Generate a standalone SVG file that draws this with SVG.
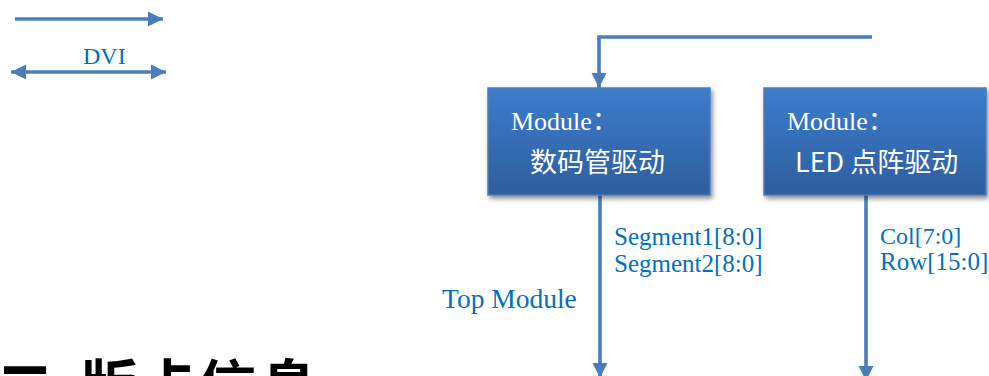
<svg xmlns="http://www.w3.org/2000/svg" width="989" height="376" viewBox="0 0 989 376">
  <defs>
    <linearGradient id="boxGrad" x1="0" y1="0" x2="0" y2="1">
      <stop offset="0" stop-color="#3B7DCC"/>
      <stop offset="1" stop-color="#2E5D9D"/>
    </linearGradient>
    <filter id="shadow" x="-10%" y="-10%" width="125%" height="130%">
      <feGaussianBlur in="SourceAlpha" stdDeviation="2.5"/>
      <feOffset dx="2" dy="3" result="b"/>
      <feComponentTransfer><feFuncA type="linear" slope="0.45"/></feComponentTransfer>
      <feMerge><feMergeNode/><feMergeNode in="SourceGraphic"/></feMerge>
    </filter>
    <marker id="arrow" viewBox="0 0 10 10" refX="10" refY="5" markerWidth="4.2" markerHeight="4.2" orient="auto" markerUnits="strokeWidth">
      <path d="M0,0 L10,5 L0,10 z" fill="#4A7EBB"/>
    </marker>
    <marker id="arrowStart" viewBox="0 0 10 10" refX="0" refY="5" markerWidth="4.2" markerHeight="4.2" orient="auto" markerUnits="strokeWidth">
      <path d="M10,0 L0,5 L10,10 z" fill="#4A7EBB"/>
    </marker>
  </defs>
  <style>
    .conn { fill: none; stroke: #4A7EBB; stroke-width: 3.6; }
    .box { fill: url(#boxGrad); stroke: #4A7EBB; stroke-width: 1.5; filter: url(#shadow); }
    .lbl { font-family: "Liberation Serif", "Noto Sans CJK SC", serif; font-size: 25px; fill: #0070C0; }
    .mod { font-family: "Liberation Serif", "Noto Sans CJK SC", serif; font-size: 26px; fill: #FFFFFF; }
    .cn { font-family: "Noto Sans CJK SC", sans-serif; font-size: 27px; fill: #FFFFFF; }
    .head { font-family: "Noto Sans CJK SC", sans-serif; font-size: 58px; font-weight: 700; fill: #000000; }
  </style>

  <g id="connectors">
    <line class="conn" x1="15" y1="19" x2="163" y2="19" marker-end="url(#arrow)"/>
    <line class="conn" x1="11" y1="72" x2="166" y2="72" marker-start="url(#arrowStart)" marker-end="url(#arrow)"/>
    <polyline class="conn" points="872,37 599,37 599,88" marker-end="url(#arrow)"/>
    <line class="conn" x1="600" y1="195" x2="600" y2="378" marker-end="url(#arrow)"/>
    <line class="conn" x1="866" y1="195" x2="866" y2="381" marker-end="url(#arrow)"/>
  </g>

  <g id="legend-dvi">
    <text class="lbl" x="83" y="64" style="font-size:24px">DVI</text>
  </g>

  <g id="module-seg">
    <rect class="box" x="488" y="88" width="222" height="107"/>
    <text class="mod" x="511" y="130">Module：</text>
    <text class="cn" x="530" y="172">数码管驱动</text>
  </g>

  <g id="module-led">
    <rect class="box" x="764" y="88" width="222" height="107"/>
    <text class="mod" x="787" y="130">Module：</text>
    <text class="cn" x="795" y="172">LED 点阵驱动</text>
  </g>

  <g id="labels">
    <text class="lbl" x="614" y="245">Segment1[8:0]</text>
    <text class="lbl" x="614" y="272">Segment2[8:0]</text>
    <text class="lbl" x="880" y="244" style="font-size:24px">Col[7:0]</text>
    <text class="lbl" x="880" y="270">Row[15:0]</text>
    <text class="lbl" x="442" y="308" style="font-size:27.5px">Top Module</text>
  </g>

  <g id="heading">
    <text class="head" x="-4 36 80 140 198 260" y="408">二、版卡信息</text>
  </g>
</svg>
